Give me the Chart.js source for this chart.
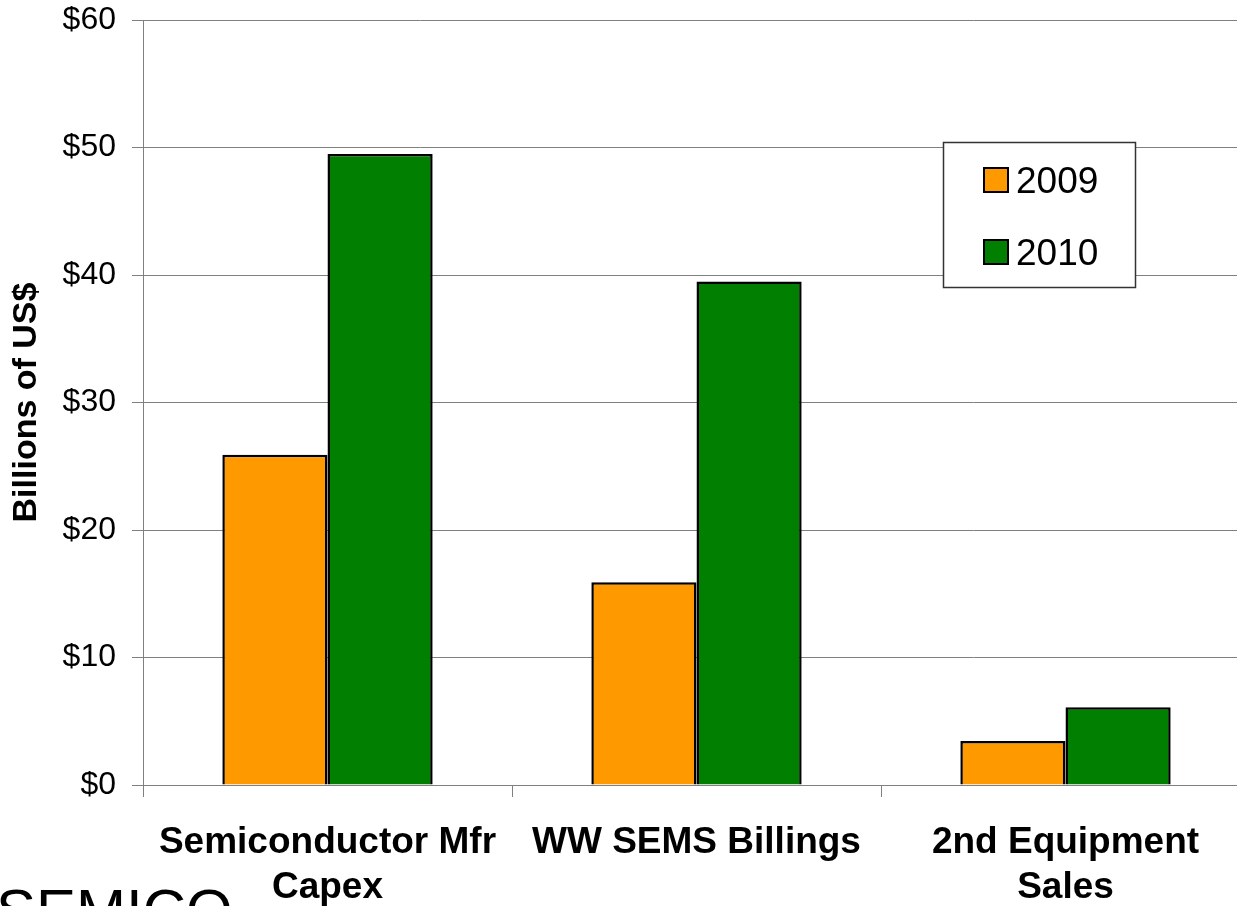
<!DOCTYPE html>
<html>
<head>
<meta charset="utf-8">
<script src="https://cdn.jsdelivr.net/npm/chart.js@4/dist/chart.umd.min.js"></script>
<style>
    html, body { margin: 0; padding: 0; background: #fff; overflow: hidden; }
    #wrap { width: 1250px; height: 906px; }
</style>
</head>
<body>
<div id="wrap"><canvas id="capexChart" width="1250" height="906"></canvas></div>
<script>
const categories = [["Semiconductor Mfr", "Capex"], "WW SEMS Billings", ["2nd Equipment", "Sales"]];
const years = ["2009", "2010"];
const values2009 = [25.9, 15.9, 3.45];
const values2010 = [49.5, 39.5, 6.1];
const yTicks = [0, 10, 20, 30, 40, 50, 60];

const FONT = "'Liberation Sans', Arial, sans-serif";
const GRID = "#808080";

// legend box drawn by hand, top right inside the plot like the original
const boxLegend = {
    id: "boxLegend",
    afterDraw(chart) {
        const ctx = chart.ctx;
        const x = 943, y = 142, w = 192, h = 145;
        ctx.save();
        ctx.fillStyle = "#fff";
        ctx.fillRect(x, y, w, h);
        ctx.strokeStyle = "#333";
        ctx.lineWidth = 1.5;
        ctx.strokeRect(x + 0.5, y + 0.5, w, h);
        ctx.font = "37px " + FONT;
        ctx.textBaseline = "alphabetic";
        chart.data.datasets.forEach(function (ds, i) {
            const base = 193 + i * 72;
            ctx.fillStyle = ds.backgroundColor;
            ctx.fillRect(984, base - 25, 24, 24);
            ctx.strokeStyle = "#000";
            ctx.lineWidth = 2;
            ctx.strokeRect(984, base - 25, 24, 24);
            ctx.fillStyle = "#000";
            ctx.fillText(ds.label, 1016, base);
        });
        ctx.restore();
    }
};

// SEMICO logo, cut off at the bottom edge
const logo = {
    id: "logo",
    afterDraw(chart) {
        const ctx = chart.ctx;
        ctx.save();
        ctx.font = "60px " + FONT;
        ctx.fillStyle = "#000";
        ctx.textBaseline = "alphabetic";
        ctx.fillText("SEMICO", -4, 931);
        ctx.restore();
    }
};

new Chart(document.getElementById("capexChart").getContext("2d"), {
    type: "bar",
    data: {
        labels: categories,
        datasets: [{
            label: years[0],
            data: values2009,
            backgroundColor: "#FF9900",
            borderColor: "#000",
            borderWidth: 2.5
        }, {
            label: years[1],
            data: values2010,
            backgroundColor: "#007F00",
            borderColor: "#000",
            borderWidth: 2.5
        }]
    },
    options: {
        responsive: false,
        animation: false,
        layout: { padding: { top: 20, left: 0, right: 0, bottom: 0 } },
        categoryPercentage: 0.57,
        barPercentage: 1,
        plugins: {
            legend: { display: false },
            tooltip: { enabled: false }
        },
        scales: {
            x: {
                grid: { offset: true, drawOnChartArea: false, tickLength: 12, color: GRID },
                border: { color: GRID, width: 1 },
                ticks: {
                    color: "#000",
                    font: { family: FONT, size: 37, weight: "bold", lineHeight: 1.22 },
                    padding: 23,
                    maxRotation: 0,
                    autoSkip: false
                },
                afterFit: function (scale) {
                    scale.height = 121;
                    scale.paddingLeft = 0;
                    scale.paddingRight = 0;
                }
            },
            y: {
                min: 0,
                max: 60,
                afterBuildTicks: function (scale) {
                    scale.ticks = yTicks.map(function (v) { return { value: v }; });
                },
                grid: { color: GRID, tickLength: 11 },
                border: { color: GRID, width: 1 },
                ticks: {
                    color: "#000",
                    font: { family: FONT, size: 32 },
                    padding: 16,
                    callback: function (v) { return "$" + v; }
                },
                title: {
                    display: true,
                    text: "Billions of US$",
                    color: "#000",
                    font: { family: FONT, size: 34, weight: "bold" },
                    padding: { top: 6, bottom: 0 }
                },
                afterFit: function (scale) {
                    scale.width = 143;
                    scale.paddingTop = 0;
                    scale.paddingBottom = 0;
                }
            }
        }
    },
    plugins: [boxLegend, logo]
});
</script>
</body>
</html>
